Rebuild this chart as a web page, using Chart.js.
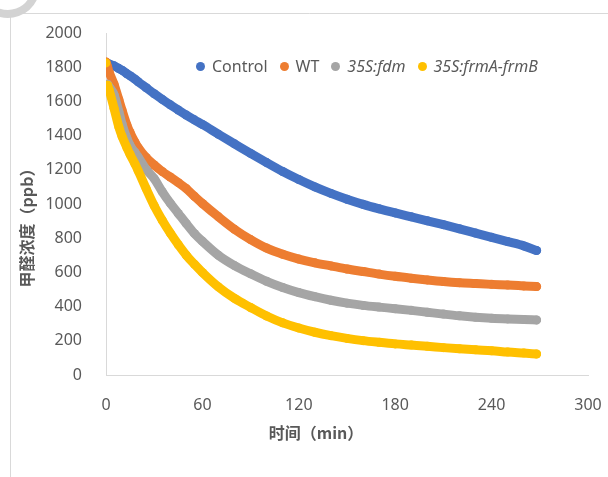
<!DOCTYPE html>
<html>
<head>
<meta charset="utf-8">
<script src="https://cdn.jsdelivr.net/npm/chart.js@4.4.0/dist/chart.umd.min.js"></script>
<style>
  body { margin: 0; background: #fff; }
  #wrap { position: relative; width: 608px; height: 477px; }
  #legend {
    position: absolute; left: 196px; top: 55px;
    display: flex; gap: 12px;
    font: 16px 'Noto Sans', sans-serif; color: #595959;
  }
  .item { display: flex; align-items: center; }
  .dot { width: 9px; height: 9px; border-radius: 50%; margin-right: 7px; }
  .it { font-style: italic; }
</style>
</head>
<body>
<div id="wrap">
  <canvas id="chart" width="608" height="477"></canvas>
  <div id="legend"></div>
</div>
<script>
// time points (min)
const times = [0, 0.5, 1, 2, 5, 8, 10, 13, 15, 18, 20, 25, 30, 35, 40, 45, 50, 55, 60,
  70, 80, 90, 100, 110, 120, 130, 140, 150, 160, 170, 180, 190, 200, 210, 220, 230, 240, 250, 260, 268];

// formaldehyde concentration (ppb)
const control = [1825, 1824, 1822, 1819, 1808, 1792, 1782, 1762, 1750, 1730, 1715, 1680, 1645, 1612, 1580, 1550, 1520, 1492, 1465,
  1408, 1352, 1296, 1242, 1190, 1143, 1100, 1062, 1028, 998, 972, 948, 925, 902, 879, 855, 830, 805, 780, 755, 728];
const wt = [1830, 1815, 1800, 1770, 1700, 1610, 1548, 1462, 1418, 1362, 1330, 1272, 1228, 1190, 1158, 1125, 1090, 1045, 1003,
  925, 852, 792, 742, 706, 678, 656, 638, 620, 605, 590, 577, 566, 556, 547, 540, 535, 530, 526, 521, 517];
const fdm = [null, null, 1700, 1685, 1640, 1540, 1468, 1385, 1342, 1302, 1275, 1202, 1148, 1072, 1005, 945, 885, 828, 782,
  700, 640, 592, 548, 512, 482, 458, 437, 420, 407, 397, 388, 378, 367, 356, 346, 338, 332, 328, 325, 322];
const frm = [1825, null, 1695, 1665, 1560, 1450, 1395, 1330, 1290, 1235, 1195, 1090, 990, 905, 830, 762, 700, 648, 600,
  515, 448, 395, 345, 305, 275, 250, 230, 214, 201, 191, 182, 175, 168, 160, 153, 147, 142, 134, 128, 123];

const labels = ['Control', 'WT', '35S:fdm', '35S:frmA-frmB'];
const colors = ['#4472C4', '#ED7D31', '#A5A5A5', '#FFC000'];
const italic = [false, false, true, true];
const xTicks = [0, 60, 120, 180, 240, 300];
const yTicks = [0, 200, 400, 600, 800, 1000, 1200, 1400, 1600, 1800, 2000];
const xTitle = '时间（min）';
const yTitle = '甲醛浓度（ppb）';

const series = [control, wt, fdm, frm];

function points(vals) {
  return times.map((t, i) => ({ x: t, y: vals[i] }));
}

const decor = {
  id: 'decor',
  beforeDraw(chart) {
    const ctx = chart.ctx;
    ctx.save();
    ctx.fillStyle = '#fff';
    ctx.fillRect(0, 0, chart.width, chart.height);
    // outer chart frame
    ctx.strokeStyle = '#d9d9d9';
    ctx.lineWidth = 1;
    ctx.beginPath();
    ctx.moveTo(10.5, chart.height);
    ctx.lineTo(10.5, 13.5);
    ctx.lineTo(chart.width, 13.5);
    ctx.stroke();
    // grey ring fragment in the corner
    ctx.strokeStyle = '#d3d3d3';
    ctx.lineWidth = 8;
    ctx.beginPath();
    ctx.arc(8, -14, 28, 0.14 * Math.PI, 0.72 * Math.PI);
    ctx.stroke();
    ctx.restore();
  },
  afterDraw(chart) {
    const ctx = chart.ctx;
    ctx.save();
    ctx.font = 'bold 16px "Noto Sans CJK SC"';
    ctx.fillStyle = '#595959';
    ctx.textAlign = 'center';
    ctx.textBaseline = 'middle';
    ctx.fillText(xTitle, 316, 433);
    ctx.translate(27, 224);
    ctx.rotate(-Math.PI / 2);
    ctx.fillText(yTitle, 0, 0);
    ctx.restore();
  }
};

const tickFont = { family: "'Noto Sans', sans-serif", size: 16 };

new Chart(document.getElementById('chart'), {
  type: 'line',
  data: {
    datasets: series.map((vals, i) => ({
      label: labels[i],
      data: points(vals),
      borderColor: colors[i],
      backgroundColor: colors[i],
      borderWidth: 9,
      borderCapStyle: 'round',
      borderJoinStyle: 'round',
      pointRadius: 4.5,
      pointBorderWidth: 0,
      pointHoverRadius: 4.5,
      cubicInterpolationMode: 'monotone',
      spanGaps: false,
      order: series.length - i
    }))
  },
  options: {
    responsive: false,
    animation: false,
    layout: { padding: { top: 33, right: 20, bottom: 0, left: 0 } },
    plugins: {
      legend: { display: false },
      tooltip: { enabled: false }
    },
    scales: {
      x: {
        type: 'linear',
        min: 0,
        max: 300,
        afterBuildTicks: s => { s.ticks = xTicks.map(v => ({ value: v })); },
        afterFit: s => { s.height = 102; s.paddingRight = 0; s.paddingLeft = 0; },
        grid: { display: false },
        border: { display: true, color: '#d9d9d9', width: 1 },
        ticks: { color: '#595959', font: tickFont, padding: 13, maxRotation: 0, callback: v => String(v) }
      },
      y: {
        min: 0,
        max: 2000,
        afterBuildTicks: s => { s.ticks = yTicks.map(v => ({ value: v })); },
        afterFit: s => { s.width = 106; },
        grid: { display: false },
        border: { display: true, color: '#d9d9d9', width: 1 },
        ticks: { color: '#595959', font: tickFont, padding: 16, callback: v => String(v) }
      }
    }
  },
  plugins: [decor]
});

// legend with italic genotype names
const legend = document.getElementById('legend');
labels.forEach((name, i) => {
  const item = document.createElement('div');
  item.className = 'item';
  const dot = document.createElement('span');
  dot.className = 'dot';
  dot.style.background = colors[i];
  const txt = document.createElement('span');
  txt.textContent = name;
  if (italic[i]) txt.className = 'it';
  item.appendChild(dot);
  item.appendChild(txt);
  legend.appendChild(item);
});
</script>
</body>
</html>
